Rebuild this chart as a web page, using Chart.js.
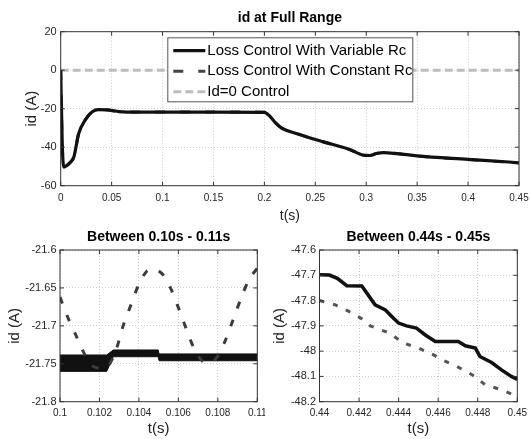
<!DOCTYPE html>
<html>
<head>
<meta charset="utf-8">
<script src="https://cdn.jsdelivr.net/npm/chart.js@4.4.1/dist/chart.umd.min.js"></script>
<style>
  body { margin: 0; background: #fff; width: 531px; height: 439px; position: relative; overflow: hidden; }
  .box { position: absolute; }
  #top { left: 0; top: 0; width: 531px; height: 226px; }
  #bl { left: 0; top: 222px; width: 265px; height: 217px; }
  #br { left: 265px; top: 222px; width: 266px; height: 217px; }
</style>
</head>
<body>
<div class="box" id="top"><canvas id="topChart"></canvas></div>
<div class="box" id="bl"><canvas id="leftChart"></canvas></div>
<div class="box" id="br"><canvas id="rightChart"></canvas></div>
<script>
// ---- full range ----
const topT = [0, 0.0015, 0.003, 0.006, 0.01, 0.013, 0.0176, 0.0243, 0.031, 0.037, 0.045, 0.0575, 0.075, 0.1, 0.15, 0.2, 0.2055, 0.2105, 0.217, 0.2305, 0.257, 0.2837, 0.297, 0.3036, 0.31, 0.317, 0.33, 0.35, 0.4, 0.44, 0.45];
const topVar = [0, -38, -50.3, -49.5, -47.5, -45, -33, -25.7, -21.6, -20.5, -20.6, -21.5, -21.8, -21.74, -21.8, -21.9, -24, -27.1, -30.1, -32.7, -37.1, -41.2, -44.1, -44.3, -43.3, -42.8, -43.3, -44.5, -46.3, -47.7, -48.1];
const topConst = [0, -38, -50.3, -49.5, -47.5, -45, -33, -25.7, -21.6, -20.5, -20.6, -21.5, -21.7, -21.69, -21.7, -21.8, -24, -27.1, -30.1, -32.7, -37.1, -41.2, -44.1, -44.3, -43.3, -42.8, -43.3, -44.6, -46.4, -47.8, -48.18];
const topZeroT = [0, 0.45];
const topZero = [0, 0];
const topXTicks = [0, 0.05, 0.1, 0.15, 0.2, 0.25, 0.3, 0.35, 0.4, 0.45];
const topXLabels = ['0', '0.05', '0.1', '0.15', '0.2', '0.25', '0.3', '0.35', '0.4', '0.45'];
const topYTicks = [-60, -40, -20, 0, 20];
const topYLabels = ['-60', '-40', '-20', '0', '20'];

// ---- 0.10 s - 0.11 s ----
const leftBandT = [0.1, 0.10237, 0.1027, 0.10498, 0.10502, 0.11];
const leftBandHigh = [-21.7384, -21.7384, -21.7318, -21.7318, -21.737, -21.737];
const leftBandLow = [-21.760, -21.760, -21.7407, -21.7407, -21.746, -21.746];
const leftConstT = [0.1, 0.1004, 0.1008, 0.1012, 0.1016, 0.102, 0.1024, 0.1028, 0.1032, 0.1036, 0.104, 0.1044, 0.1048, 0.1052, 0.1056, 0.106, 0.1064, 0.1068, 0.1072, 0.1076, 0.108, 0.1084, 0.1088, 0.1092, 0.1096, 0.11];
const leftConst = [-21.662, -21.689, -21.712, -21.735, -21.752, -21.756, -21.754, -21.735, -21.700, -21.672, -21.645, -21.628, -21.625, -21.632, -21.650, -21.676, -21.704, -21.730, -21.746, -21.749, -21.740, -21.718, -21.690, -21.662, -21.638, -21.624];
const leftXTicks = [0.1, 0.102, 0.104, 0.106, 0.108, 0.11];
const leftXLabels = ['0.1', '0.102', '0.104', '0.106', '0.108', '0.11'];
const leftYTicks = [-21.8, -21.75, -21.7, -21.65, -21.6];
const leftYLabels = ['-21.8', '-21.75', '-21.7', '-21.65', '-21.6'];

// ---- 0.44 s - 0.45 s ----
const rightVarT = [0.44, 0.4405, 0.4409, 0.44138, 0.44214, 0.44281, 0.44333, 0.44374, 0.444, 0.4444, 0.4449, 0.44535, 0.44585, 0.44702, 0.44737, 0.44788, 0.44811, 0.4487, 0.4492, 0.4497, 0.45];
const rightVar = [-47.698, -47.699, -47.712, -47.741, -47.742, -47.817, -47.837, -47.870, -47.889, -47.900, -47.909, -47.936, -47.962, -47.962, -47.979, -47.988, -48.021, -48.045, -48.074, -48.100, -48.112];
const rightConstT = [0.44, 0.4408, 0.44148, 0.4421, 0.44257, 0.44308, 0.44358, 0.44417, 0.44501, 0.44577, 0.44619, 0.44695, 0.44771, 0.44838, 0.4492, 0.45];
const rightConst = [-47.800, -47.817, -47.843, -47.870, -47.900, -47.916, -47.929, -47.966, -47.988, -48.015, -48.034, -48.061, -48.093, -48.133, -48.153, -48.180];
const rightXTicks = [0.44, 0.442, 0.444, 0.446, 0.448, 0.45];
const rightXLabels = ['0.44', '0.442', '0.444', '0.446', '0.448', '0.45'];
const rightYTicks = [-48.2, -48.1, -48, -47.9, -47.8, -47.7, -47.6];
const rightYLabels = ['-48.2', '-48.1', '-48', '-47.9', '-47.8', '-47.7', '-47.6'];

Chart.defaults.font.family = '"Liberation Sans", Arial, sans-serif';
Chart.defaults.animation = false;

function pts(xs, ys) {
  return xs.map((x, i) => ({ x: x, y: ys[i] }));
}

function axis(cfg) {
  return {
    type: 'linear',
    min: cfg.min,
    max: cfg.max,
    afterBuildTicks: (s) => { s.ticks = cfg.ticks.map((v) => ({ value: v })); },
    afterFit: (s) => {
      if (cfg.width) s.width = cfg.width;
      if (cfg.height) s.height = cfg.height;
      s.paddingLeft = 0; s.paddingRight = 0; s.paddingTop = 0; s.paddingBottom = 0;
    },
    ticks: {
      callback: (v, i) => cfg.labels[i],
      color: '#262626',
      font: { size: cfg.tickSize },
      padding: cfg.tickPad,
      autoSkip: false,
      maxRotation: 0
    },
    grid: { color: '#cccccc', drawTicks: false, lineWidth: 1 },
    border: { display: false, dash: [1, 2] },
    title: { display: true, text: cfg.title, color: '#222', font: { size: cfg.titleSize }, padding: cfg.titlePad }
  };
}

const framePlugin = {
  id: 'frame',
  afterDatasetsDraw(chart) {
    const { ctx, chartArea: a, scales } = chart;
    ctx.save();
    ctx.strokeStyle = '#333';
    ctx.lineWidth = 1;
    ctx.strokeRect(a.left, a.top, a.right - a.left, a.bottom - a.top);
    ctx.beginPath();
    scales.x.ticks.forEach((t) => {
      const p = scales.x.getPixelForValue(t.value);
      ctx.moveTo(p, a.bottom); ctx.lineTo(p, a.bottom - 4);
      ctx.moveTo(p, a.top); ctx.lineTo(p, a.top + 4);
    });
    scales.y.ticks.forEach((t) => {
      const p = scales.y.getPixelForValue(t.value);
      ctx.moveTo(a.left, p); ctx.lineTo(a.left + 4, p);
      ctx.moveTo(a.right, p); ctx.lineTo(a.right - 4, p);
    });
    ctx.stroke();
    ctx.restore();
  }
};

const insetLegend = {
  id: 'insetLegend',
  afterDraw(chart, args, opts) {
    const { ctx, chartArea: a } = chart;
    const x = a.left + opts.x, y = a.top + opts.y;
    ctx.save();
    ctx.fillStyle = '#fff';
    ctx.fillRect(x, y, opts.w, opts.h);
    ctx.strokeStyle = '#555';
    ctx.lineWidth = 1;
    ctx.strokeRect(x + 0.5, y + 0.5, opts.w, opts.h);
    ctx.font = '15px "Liberation Sans", Arial, sans-serif';
    ctx.textBaseline = 'middle';
    chart.data.datasets.forEach((ds, i) => {
      const ry = y + opts.first + i * opts.rowH;
      ctx.beginPath();
      ctx.strokeStyle = ds.borderColor;
      ctx.lineWidth = ds.borderWidth;
      ctx.setLineDash(ds.borderDash || []);
      ctx.moveTo(x + 6, ry);
      ctx.lineTo(x + 38, ry);
      ctx.stroke();
      ctx.setLineDash([]);
      ctx.fillStyle = '#000';
      ctx.fillText(ds.label, x + 40, ry);
    });
    ctx.restore();
  }
};

function titleOpts(text, top, bottom) {
  return { display: true, text: text, color: '#000', fullSize: false, font: { size: 14, weight: 'bold' }, padding: { top: top, bottom: bottom } };
}

new Chart(document.getElementById('topChart'), {
  type: 'line',
  data: {
    datasets: [
      { label: 'Loss Control With Variable Rc', data: pts(topT, topVar), borderColor: '#111', borderWidth: 3.2, pointRadius: 0, cubicInterpolationMode: 'monotone' },
      { label: 'Loss Control With Constant Rc', data: pts(topT, topConst), borderColor: '#444', borderWidth: 3, borderDash: [10, 15], pointRadius: 0, cubicInterpolationMode: 'monotone' },
      { label: 'Id=0 Control', data: pts(topZeroT, topZero), borderColor: '#bdbdbd', borderWidth: 3, borderDash: [8, 4], pointRadius: 0 }
    ]
  },
  options: {
    responsive: true,
    maintainAspectRatio: false,
    layout: { padding: { left: 0, right: 12, top: 0, bottom: 0 } },
    plugins: {
      legend: { display: false },
      tooltip: { enabled: false },
      title: titleOpts('id at Full Range', 9.6, 5.3),
      insetLegend: { x: 106.6, y: 5.6, w: 245, h: 64, first: 13.4, rowH: 20.5 }
    },
    scales: {
      x: axis({ min: 0, max: 0.45, ticks: topXTicks, labels: topXLabels, tickSize: 10, tickPad: 7, height: 40.3, title: 't(s)', titleSize: 14, titlePad: { top: 0, bottom: 1.6 } }),
      y: axis({ min: -60, max: 20, ticks: topYTicks, labels: topYLabels, tickSize: 11, tickPad: 4, width: 60.7, title: 'id (A)', titleSize: 15, titlePad: { top: 22.7, bottom: 0 } })
    }
  },
  plugins: [framePlugin, insetLegend]
});

new Chart(document.getElementById('leftChart'), {
  type: 'line',
  data: {
    datasets: [
      { label: 'Loss Control With Constant Rc', data: pts(leftConstT, leftConst), borderColor: '#3c3c3c', borderWidth: 3, borderDash: [7, 12], pointRadius: 0, tension: 0.3 },
      { label: 'Loss Control With Variable Rc', data: pts(leftBandT, leftBandHigh), borderColor: '#111', backgroundColor: '#111', borderWidth: 1, pointRadius: 0, fill: '+1' },
      { label: 'Loss Control With Variable Rc (low)', data: pts(leftBandT, leftBandLow), borderColor: '#111', borderWidth: 1, pointRadius: 0 }
    ]
  },
  options: {
    responsive: true,
    maintainAspectRatio: false,
    layout: { padding: { left: 0, right: 7.7, top: 0, bottom: 0 } },
    plugins: {
      legend: { display: false },
      tooltip: { enabled: false },
      title: titleOpts('Between 0.10s - 0.11s', 7.1, 4.1)
    },
    scales: {
      x: axis({ min: 0.1, max: 0.11, ticks: leftXTicks, labels: leftXLabels, tickSize: 10, tickPad: 6, height: 37.3, title: 't(s)', titleSize: 15, titlePad: { top: 0, bottom: 1 } }),
      y: axis({ min: -21.8, max: -21.6, ticks: leftYTicks, labels: leftYLabels, tickSize: 11, tickPad: 3.5, width: 60, title: 'id (A)', titleSize: 15, titlePad: { top: 6, bottom: 0 } })
    }
  },
  plugins: [framePlugin]
});

new Chart(document.getElementById('rightChart'), {
  type: 'line',
  data: {
    datasets: [
      { label: 'Loss Control With Variable Rc', data: pts(rightVarT, rightVar), borderColor: '#111', borderWidth: 3.5, pointRadius: 0 },
      { label: 'Loss Control With Constant Rc', data: pts(rightConstT, rightConst), borderColor: '#555', borderWidth: 3, borderDash: [5, 9], pointRadius: 0 }
    ]
  },
  options: {
    responsive: true,
    maintainAspectRatio: false,
    layout: { padding: { left: 0, right: 13.7, top: 0, bottom: 0 } },
    plugins: {
      legend: { display: false },
      tooltip: { enabled: false },
      title: titleOpts('Between 0.44s - 0.45s', 7.1, 4.1)
    },
    scales: {
      x: axis({ min: 0.44, max: 0.45, ticks: rightXTicks, labels: rightXLabels, tickSize: 10, tickPad: 6, height: 37.3, title: 't(s)', titleSize: 15, titlePad: { top: 0, bottom: 1 } }),
      y: axis({ min: -48.2, max: -47.6, ticks: rightYTicks, labels: rightYLabels, tickSize: 11, tickPad: 3.5, width: 54.5, title: 'id (A)', titleSize: 15, titlePad: { top: 6, bottom: 0 } })
    }
  },
  plugins: [framePlugin]
});
</script>
</body>
</html>
